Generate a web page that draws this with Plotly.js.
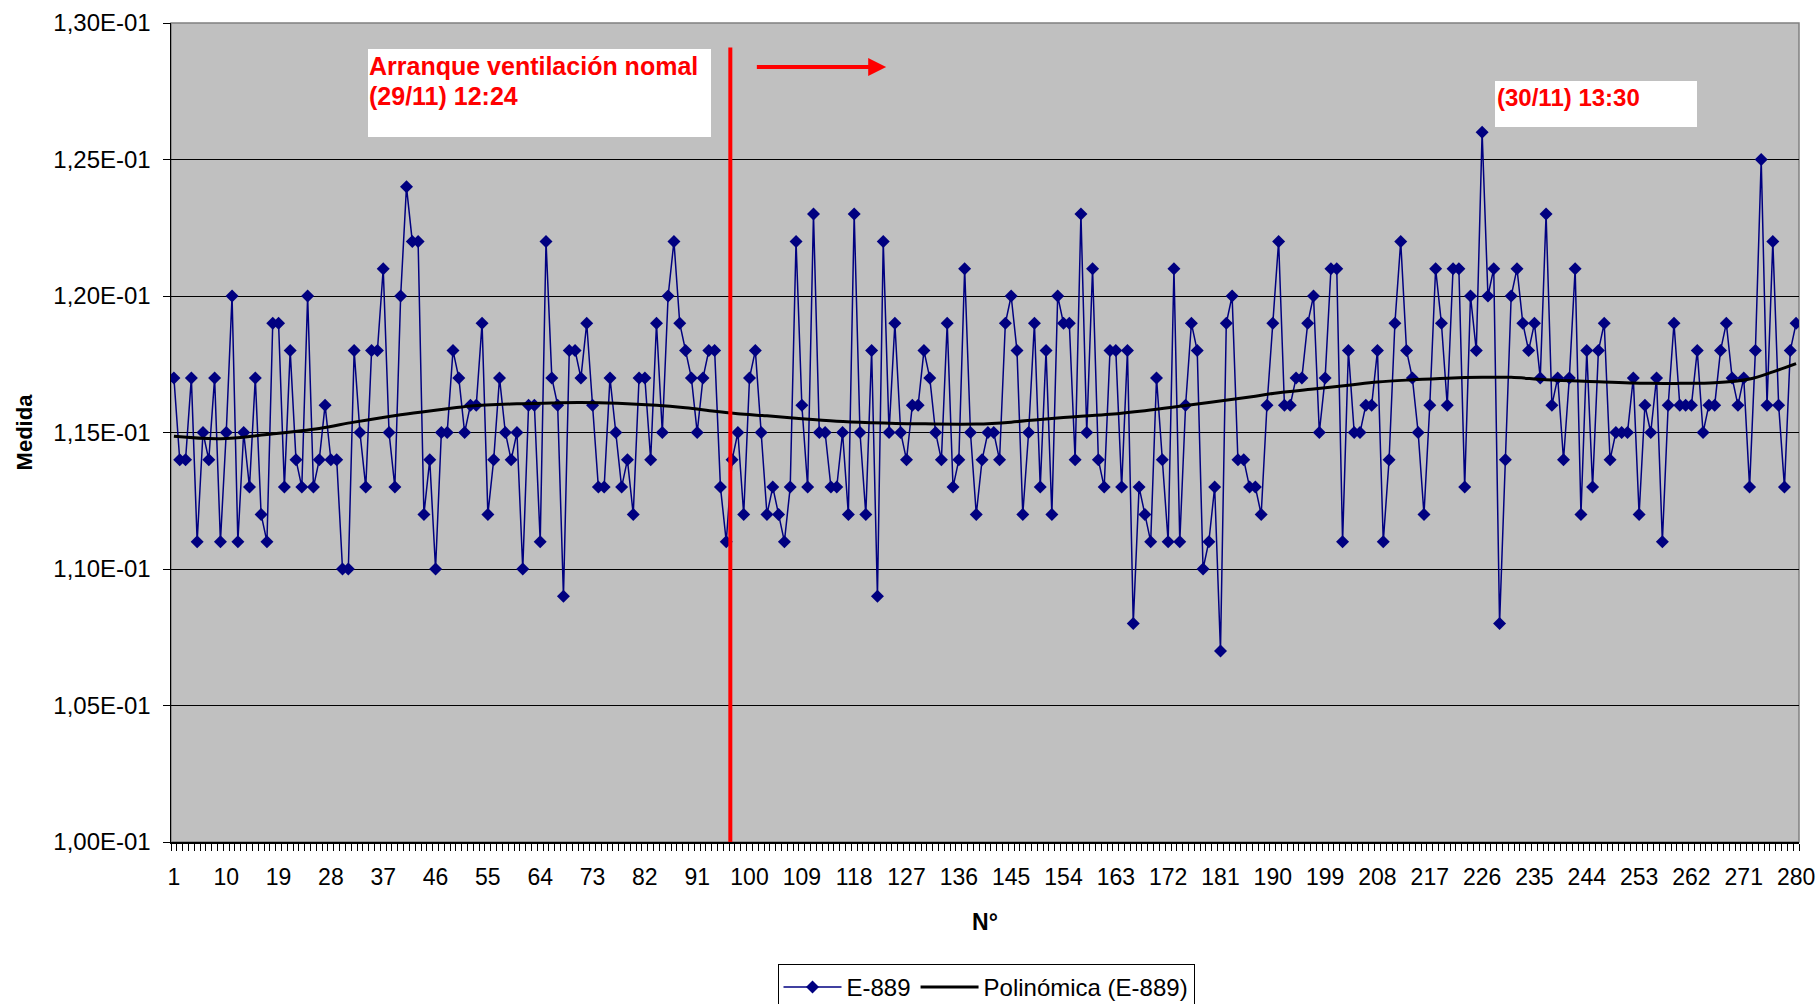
<!DOCTYPE html>
<html>
<head>
<meta charset="utf-8">
<script src="https://cdn.plot.ly/plotly-3.0.1.min.js"></script>
<style>
  html, body { margin: 0; padding: 0; background: #ffffff; }
  #chart { width: 1816px; height: 1004px; }
</style>
</head>
<body>
<div id="chart"></div>
<script>
const medida = [
  0.117,0.114,0.114,0.117,0.111,0.115,0.114,0.117,0.111,0.115,
  0.120,0.111,0.115,0.113,0.117,0.112,0.111,0.119,0.119,0.113,
  0.118,0.114,0.113,0.120,0.113,0.114,0.116,0.114,0.114,0.110,
  0.110,0.118,0.115,0.113,0.118,0.118,0.121,0.115,0.113,0.120,
  0.124,0.122,0.122,0.112,0.114,0.110,0.115,
  0.115,0.118,0.117,0.115,0.116,0.116,0.119,0.112,0.114,0.117,
  0.115,0.114,0.115,0.110,0.116,0.116,0.111,0.122,0.117,0.116,
  0.109,0.118,0.118,0.117,0.119,0.116,0.113,0.113,0.117,0.115,
  0.113,0.114,0.112,0.117,0.117,0.114,0.119,0.115,0.120,0.122,
  0.119,0.118,0.117,0.115,0.117,0.118,
  0.118,0.113,0.111,0.114,0.115,0.112,0.117,0.118,0.115,0.112,
  0.113,0.112,0.111,0.113,0.122,0.116,0.113,0.123,0.115,0.115,
  0.113,0.113,0.115,0.112,0.123,0.115,0.112,0.118,0.109,0.122,
  0.115,0.119,0.115,0.114,0.116,0.116,0.118,0.117,0.115,0.114,
  0.119,0.113,0.114,0.121,0.115,0.112,0.114,
  0.115,0.115,0.114,0.119,0.120,0.118,0.112,0.115,0.119,0.113,
  0.118,0.112,0.120,0.119,0.119,0.114,0.123,0.115,0.121,0.114,
  0.113,0.118,0.118,0.113,0.118,0.108,0.113,0.112,0.111,0.117,
  0.114,0.111,0.121,0.111,0.116,0.119,0.118,0.110,0.111,0.113,
  0.107,0.119,0.120,0.114,0.114,0.113,
  0.113,0.112,0.116,0.119,0.122,0.116,0.116,0.117,0.117,0.119,
  0.120,0.115,0.117,0.121,0.121,0.111,0.118,0.115,0.115,0.116,
  0.116,0.118,0.111,0.114,0.119,0.122,0.118,0.117,0.115,0.112,
  0.116,0.121,0.119,0.116,0.121,0.121,0.113,0.120,0.118,0.126,
  0.120,0.121,0.108,0.114,0.120,0.121,0.119,
  0.118,0.119,0.117,0.123,0.116,0.117,0.114,0.117,0.121,0.112,
  0.118,0.113,0.118,0.119,0.114,0.115,0.115,0.115,0.117,0.112,
  0.116,0.115,0.117,0.111,0.116,0.119,0.116,0.116,0.116,0.118,
  0.115,0.116,0.116,0.118,0.119,0.117,0.116,0.117,0.113,0.118,
  0.125,0.116,0.122,0.116,0.113,0.118,0.119
];
// Sample number (N°) of each measurement
const numero = medida.map((v, i) => i + 1);

// Polynomial trendline "Polinómica (E-889)" at these N°
const trendX = [1,9,17,26,32,40,47,52,60,66,71,84,89,94,98,103,109,115,121,129,139,145,150,156,162,168,173,179,187,191,197,203,208,214,220,226,231,237,246,255,260,266,272,276,280];
const trendY = [0.11486,0.11477,0.11493,0.11515,0.11538,0.11565,0.11584,0.11597,0.11605,0.11608,0.11610,0.11600,0.11591,0.11578,0.11569,0.11561,0.11550,0.11541,0.11536,0.11532,0.11531,0.11538,0.11548,0.11558,0.11567,0.11580,0.11593,0.11610,0.11633,0.11646,0.11659,0.11673,0.11685,0.11693,0.11699,0.11702,0.11702,0.11693,0.11686,0.11680,0.11680,0.11682,0.11696,0.11722,0.11752];

// Axis ticks
const xTickVals = [1,10,19,28,37,46,55,64,73,82,91,100,109,118,127,136,145,154,163,172,181,190,199,208,217,226,235,244,253,262,271,280];
const xTickText = xTickVals.map(String);
const yTickVals = [0.100,0.105,0.110,0.115,0.120,0.125,0.130];
const yTickText = ["1,00E-01","1,05E-01","1,10E-01","1,15E-01","1,20E-01","1,25E-01","1,30E-01"];

// Annotation data
const eventN = 96.7;          // ventilation start marker position (N°)
const eventLine1 = "Arranque ventilación nomal";
const eventLine2 = "(29/11) 12:24";
const endLabel = "(30/11) 13:30";

const FONT = "Liberation Sans, Arial, sans-serif";

const traces = [
  {
    type: "scatter", mode: "lines+markers", name: "E-889",
    x: numero, y: medida,
    line: { color: "#000080", width: 1.5 },
    marker: { symbol: "diamond", size: 10, color: "#000080" }
  },
  {
    type: "scatter", mode: "lines", name: "Polinómica (E-889)",
    x: trendX, y: trendY,
    line: { color: "#000000", width: 3, shape: "spline", smoothing: 1 }
  }
];

const px2x = X => (X - 171) / 1628;
const px2y = Y => (842 - Y) / 819;

const layout = {
  width: 1816, height: 1004,
  margin: { l: 171, r: 17, t: 23, b: 162 },
  paper_bgcolor: "#ffffff",
  plot_bgcolor: "#C0C0C0",
  font: { family: FONT, size: 24, color: "#000000" },
  showlegend: true,
  legend: {
    orientation: "h", xref: "container", yref: "container",
    x: 986 / 1816, xanchor: "center", y: 1 - 964 / 1004, yanchor: "top",
    bgcolor: "#ffffff", bordercolor: "#000000", borderwidth: 1,
    font: { family: FONT, size: 24, color: "#000000" },
    itemwidth: 58, tracegroupgap: 0
  },
  xaxis: {
    type: "linear", range: [0.5, 280.5],
    tickmode: "array", tickvals: xTickVals, ticktext: xTickText,
    ticks: "outside", ticklen: 8, tickcolor: "rgba(0,0,0,0)",
    ticklabelstandoff: 6, ticklabeloverflow: "allow",
    minor: { tickmode: "linear", tick0: 0.5, dtick: 1, ticks: "outside", ticklen: 7, tickwidth: 1, tickcolor: "#000000", showgrid: false },
    showgrid: false, zeroline: false,
    showline: true, linecolor: "#000000", linewidth: 1.5,
    tickfont: { family: FONT, size: 23, color: "#000000" },
    title: { text: "<b>N°</b>", font: { family: FONT, size: 23, color: "#000000" }, standoff: 25 }
  },
  yaxis: {
    range: [0.100, 0.130],
    tickmode: "array", tickvals: yTickVals, ticktext: yTickText,
    ticks: "outside", ticklen: 7, tickcolor: "#000000",
    ticklabelstandoff: 7,
    showgrid: true, gridcolor: "#000000", gridwidth: 1,
    zeroline: false,
    showline: true, linecolor: "#000000", linewidth: 1.5,
    tickfont: { family: FONT, size: 24, color: "#000000" },
    title: { text: "<b>Medida</b>", font: { family: FONT, size: 22, color: "#000000" }, standoff: 14 }
  },
  shapes: [
    // plot border (grey top/right)
    { type: "rect", xref: "paper", yref: "paper", x0: 0, x1: 1, y0: 0, y1: 1,
      line: { color: "#808080", width: 1.5 }, fillcolor: "rgba(0,0,0,0)", layer: "below" },
    // white label boxes
    { type: "rect", xref: "paper", yref: "paper", x0: px2x(368), x1: px2x(711), y0: px2y(137), y1: px2y(49),
      line: { width: 0 }, fillcolor: "#ffffff", layer: "above" },
    { type: "rect", xref: "paper", yref: "paper", x0: px2x(1495), x1: px2x(1697), y0: px2y(127), y1: px2y(81),
      line: { width: 0 }, fillcolor: "#ffffff", layer: "above" },
    // red vertical event line
    { type: "line", xref: "x", yref: "y", x0: eventN, x1: eventN, y0: 0.100, y1: 0.1291,
      line: { color: "#FF0000", width: 4 }, layer: "above" }
  ],
  annotations: [
    { xref: "paper", yref: "paper", x: px2x(367), y: px2y(66), xanchor: "left", yanchor: "middle",
      text: "<b>" + eventLine1 + "</b>", align: "left", showarrow: false,
      font: { family: FONT, size: 25, color: "#FF0000" } },
    { xref: "paper", yref: "paper", x: px2x(367), y: px2y(96), xanchor: "left", yanchor: "middle",
      text: "<b>" + eventLine2 + "</b>", align: "left", showarrow: false,
      font: { family: FONT, size: 25, color: "#FF0000" } },
    { xref: "paper", yref: "paper", x: px2x(1495), y: px2y(97), xanchor: "left", yanchor: "middle",
      text: "<b>" + endLabel + "</b>", align: "left", showarrow: false,
      font: { family: FONT, size: 24, color: "#FF0000" } },
    // red arrow
    { xref: "x", yref: "y", axref: "x", ayref: "y",
      x: 123.5, y: 0.12839, ax: 101, ay: 0.12839, text: "",
      showarrow: true, arrowhead: 2, arrowsize: 0.9, arrowwidth: 4, arrowcolor: "#FF0000" }
  ]
};

Plotly.newPlot("chart", traces, layout, { displayModeBar: false, staticPlot: true });
</script>
</body>
</html>
